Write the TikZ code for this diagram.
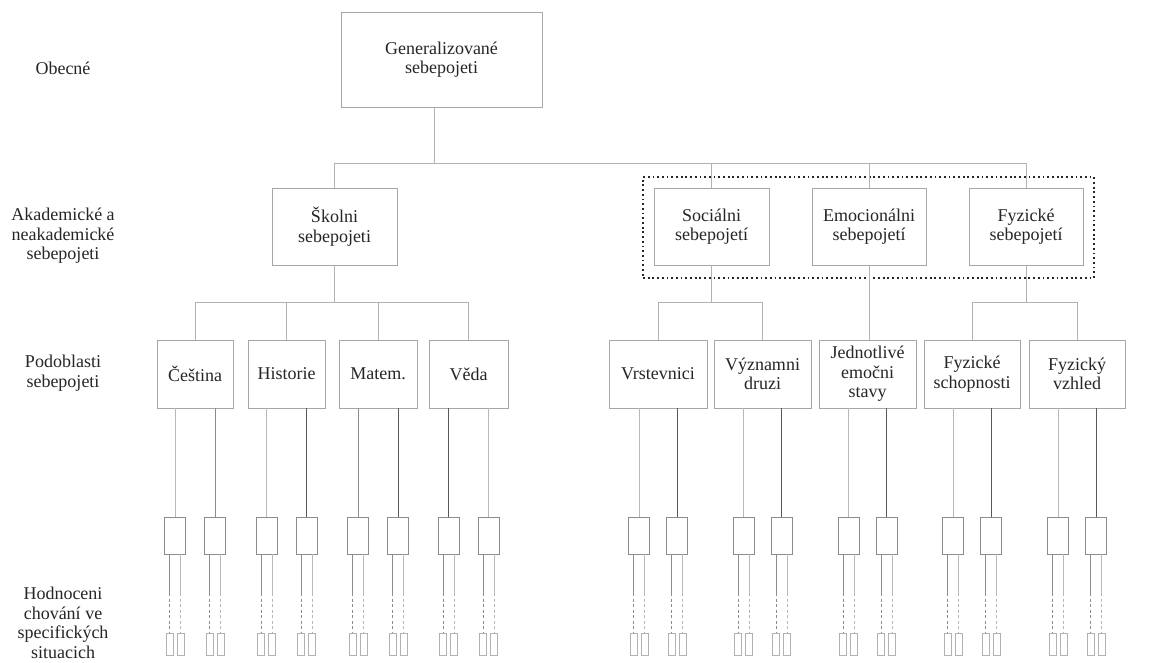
\documentclass[tikz,border=0pt]{standalone}
\usepackage{fontspec}
\setmainfont{LiberationSerif}[Extension=.ttf, UprightFont=*-Regular, BoldFont=*-Bold]
\begin{document}
\begin{tikzpicture}[x=1pt,y=-1pt,
  txt/.style={font=\fontsize{18}{19.5}\selectfont, text=black!85, align=center, inner sep=0pt},
  bigbox/.style={draw=black!35, line width=0.8pt, txt},
  leaf/.style={draw=black!45, line width=0.8pt, minimum width=21pt, minimum height=37pt, inner sep=0pt},
  tiny/.style={draw=black!30, line width=0.7pt, minimum width=7pt, minimum height=22pt, inner sep=0pt},
  conn/.style={draw=black!30, line width=0.8pt},
  lt/.style={draw=black!28, line width=0.8pt},
  md/.style={draw=black!45, line width=0.8pt},
  dk/.style={draw=black!65, line width=0.8pt},
  grp/.style={draw=black!85, line width=1.7pt, dash pattern=on 1.8pt off 2.9pt, inner sep=0pt},
]
\useasboundingbox (0,0) rectangle (1168,663);
\fill[white] (0,0) rectangle (1168,663);

% level labels
\node[txt] (lab1) at (63,68) {Obecné};
\node[txt] (lab2) at (63,236) {Akademické a\\neakademické\\sebepojeti};
\node[txt] (lab3) at (63,373) {Podoblasti\\sebepojeti};
\node[txt] (lab4) at (63,623) {Hodnoceni\\chování ve\\specifických\\situacich};

% top
\node[bigbox, minimum width=201pt, minimum height=95pt] (gen) at (441.5,59.5) {Generalizované\\sebepojeti};

% level 2
\node[bigbox, minimum width=125pt, minimum height=77pt] (sko) at (334.5,226.5) {Školni\\sebepojeti};
\node[bigbox, minimum width=115pt, minimum height=77pt] (soc) at (711.5,226.5) {Sociálni\\sebepojetí};
\node[bigbox, minimum width=114pt, minimum height=77pt] (emo) at (869,226.5) {Emocionálni\\sebepojetí};
\node[bigbox, minimum width=114pt, minimum height=77pt] (fyz) at (1026,226.5) {Fyzické\\sebepojetí};
\node[grp, minimum width=451pt, minimum height=101pt] (grpbox) at (868.5,227.5) {};

% level 3
\node[bigbox, minimum width=76pt, minimum height=68pt] (c1) at (195,374) {Čeština};
\node[bigbox, minimum width=77pt, minimum height=68pt] (c2) at (286.5,374) {Historie};
\node[bigbox, minimum width=78pt, minimum height=68pt] (c3) at (378,374) {Matem.};
\node[bigbox, minimum width=79pt, minimum height=68pt] (c4) at (468.5,374) {Věda};
\node[bigbox, minimum width=98pt, minimum height=68pt] (r1) at (658,374) {Vrstevnici};
\node[bigbox, minimum width=97pt, minimum height=68pt] (r2) at (762.5,374) {Významni\\druzi};
\node[bigbox, minimum width=97pt, minimum height=68pt] (r3) at (867.5,374) {Jednotlivé\\emočni\\stavy};
\node[bigbox, minimum width=96pt, minimum height=68pt] (r4) at (972,374) {Fyzické\\schopnosti};
\node[bigbox, minimum width=96pt, minimum height=68pt] (r5) at (1077,374) {Fyzický\\vzhled};

% tree connectors
\coordinate (b1) at (0,163.5);
\coordinate (b2) at (0,302);
\draw[conn] ([xshift=-7.5pt]gen.south) -- ([xshift=-7.5pt]gen.south |- b1);
\draw[conn] (sko.north) -- (sko.north |- b1) -- (fyz.north |- b1) -- (fyz.north);
\draw[conn] (soc.north |- b1) -- (soc.north);
\draw[conn] (emo.north |- b1) -- (emo.north);

\draw[conn] (sko.south) -- (sko.south |- b2);
\draw[conn] (c1.north) -- (c1.north |- b2) -- (c4.north |- b2) -- (c4.north);
\draw[conn] (c2.north |- b2) -- (c2.north);
\draw[conn] (c3.north |- b2) -- (c3.north);

\draw[conn] (soc.south) -- (soc.south |- b2);
\draw[conn] (r1.north) -- (r1.north |- b2) -- (r2.north |- b2) -- (r2.north);
\draw[conn] (emo.south) -- (emo.south |- r3.north);
\draw[conn] (fyz.south) -- (fyz.south |- b2);
\draw[conn] (r4.north) -- (r4.north |- b2) -- (r5.north |- b2) -- (r5.north);

% specific situations
\foreach \p/\d/\sa/\sb in {c1/20/lt/md, c2/20/lt/dk, c3/20/md/dk, c4/20/dk/lt, r1/19/lt/dk, r2/19/lt/dk, r3/19/lt/dk, r4/19/lt/dk, r5/19/lt/dk}{
  \path (\p.center) ++(-\d,161.5) node[leaf] (\p-a) {};
  \path (\p.center) ++(\d,161.5) node[leaf] (\p-b) {};
  \draw[\sa] (\p-a.north |- \p.south) -- (\p-a.north);
  \draw[\sb] (\p-b.north |- \p.south) -- (\p-b.north);
  \foreach \q in {a,b}{
    \path (\p-\q.center) ++(-5.5,108.5) node[tiny] (\p-\q1) {};
    \path (\p-\q.center) ++(5.5,108.5) node[tiny] (\p-\q2) {};
    \foreach \t/\ts in {1/md,2/lt}{
      \draw[\ts] (\p-\q\t.north |- \p-\q.south) -- ++(0,39);
      \draw[\ts, dash pattern=on 3pt off 2.5pt] (\p-\q\t.north |- \p-\q.south) ++(0,39) -- (\p-\q\t.north);
    }
  }
}
\end{tikzpicture}
\end{document}
